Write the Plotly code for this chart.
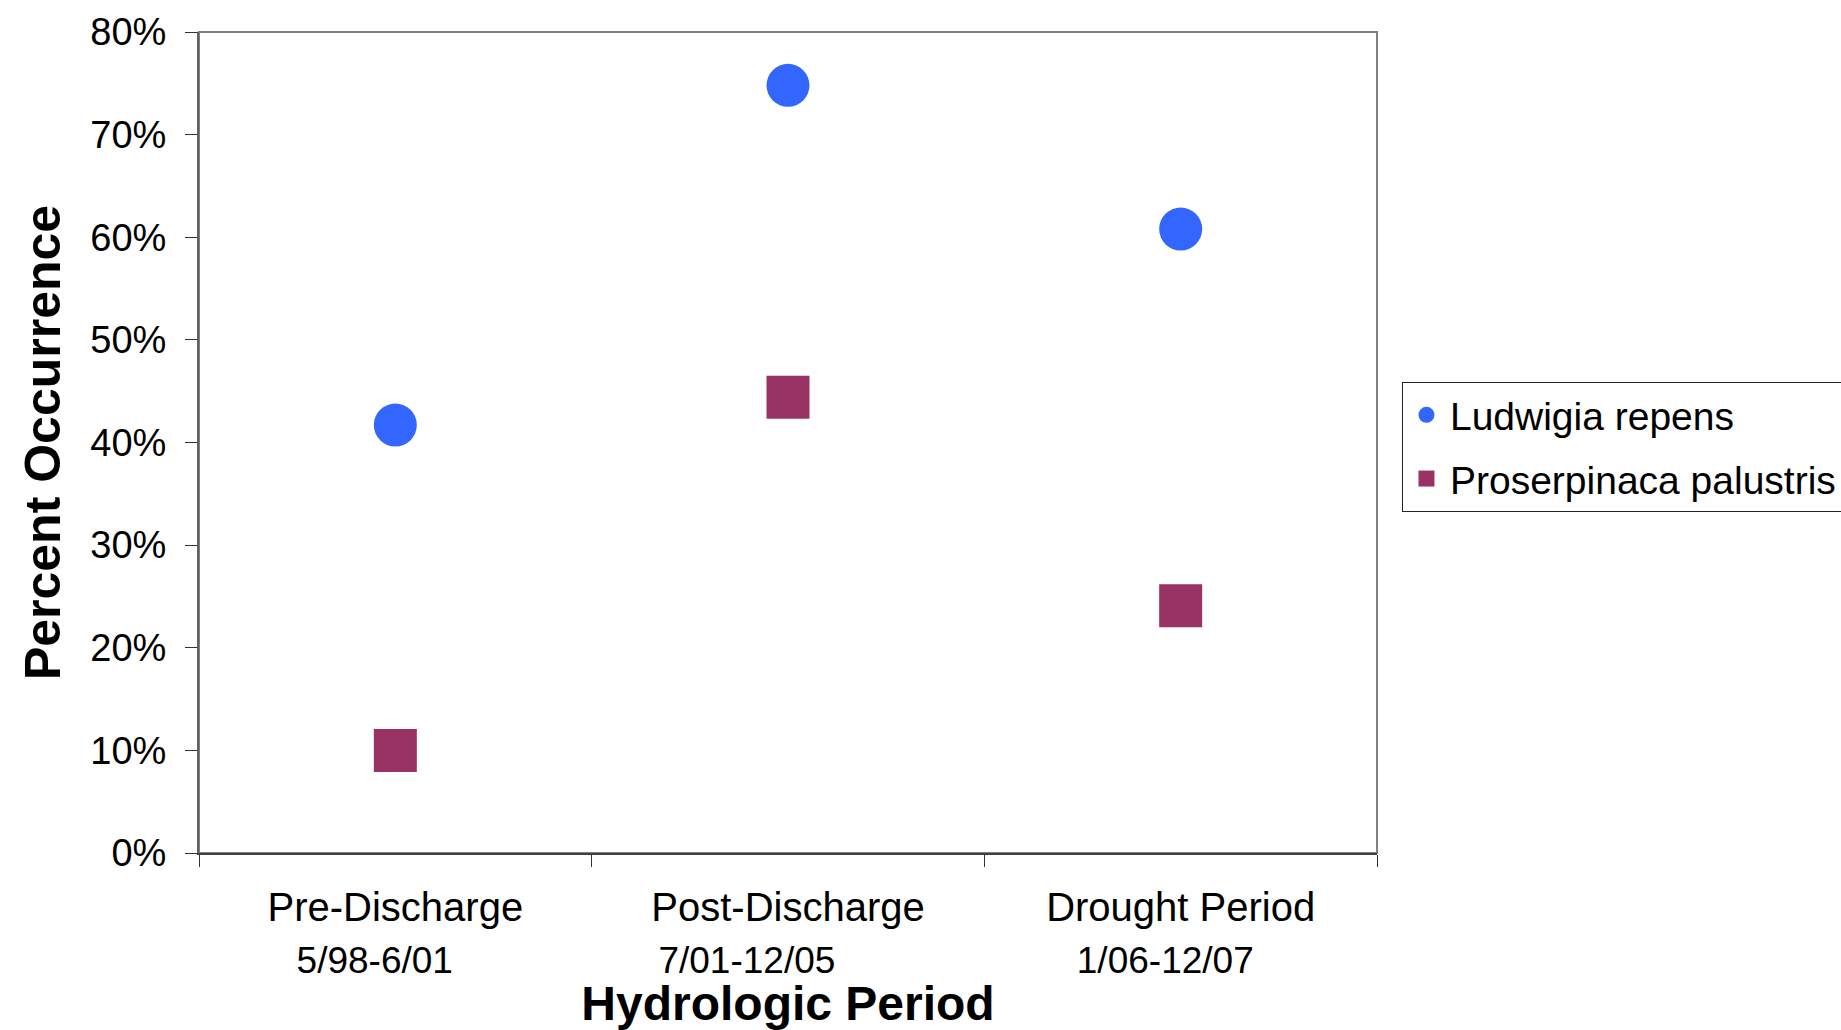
import plotly.graph_objects as go

# Hydrologic periods (category labels, two lines each)
periods = ["Pre-Discharge", "Post-Discharge", "Drought Period"]
date_ranges = ["5/98-6/01", "7/01-12/05", "1/06-12/07"]

# Percent occurrence of each species per period
ludwigia = [41.7, 74.8, 60.8]
proserpinaca = [10.0, 44.4, 24.1]

y_ticks = [0, 10, 20, 30, 40, 50, 60, 70, 80]

FONT = "Liberation Sans, Arial, sans-serif"
NBSP = "\u00a0"

# the date line is a touch smaller and sits a little left of the period name
date_pad = [4, 8, 3]
tick_text = [
    f"{p}<br><span style='font-size:37px'>{d}{NBSP * n}</span>"
    for p, d, n in zip(periods, date_ranges, date_pad)
]

fig = go.Figure()
fig.add_trace(go.Scatter(
    x=periods, y=ludwigia, mode="markers", name="Ludwigia repens",
    marker=dict(symbol="circle", size=43, color="#3366FF", line=dict(width=0)),
    legendgroup="a",
))
fig.add_trace(go.Scatter(
    x=periods, y=proserpinaca, mode="markers", name="Proserpinaca palustris",
    marker=dict(symbol="square", size=43, color="#993366", line=dict(width=0)),
    legendgroup="b",
))

# plot frame
fig.add_shape(type="rect", xref="paper", yref="paper", x0=0, x1=1, y0=0, y1=1,
              line=dict(color="#808080", width=2), layer="below")

fig.update_layout(
    width=1841, height=1030,
    margin=dict(l=199, r=464, t=32, b=177, autoexpand=False),
    paper_bgcolor="white", plot_bgcolor="white",
    font=dict(family=FONT, color="black"),
    showlegend=True,
    legend=dict(
        x=1.0212, xanchor="left", y=0.5737, yanchor="top",
        bordercolor="#222222", borderwidth=1, bgcolor="white",
        font=dict(family=FONT, size=39, color="black"),
        traceorder="grouped", tracegroupgap=10,
        itemsizing="trace", itemwidth=37,
    ),
    xaxis=dict(
        type="category", range=[-0.5, 2.5],
        tickmode="array", tickvals=periods, ticktext=tick_text,
        tickson="boundaries", ticks="outside", ticklen=12, tickwidth=1, tickcolor="#333333",
        showline=True, linecolor="#404040", linewidth=2,
        showgrid=False, zeroline=False,
        tickfont=dict(family=FONT, size=40, color="black"),
        ticklabelstandoff=18,
        title=dict(text="<b>Hydrologic Period</b>", font=dict(family=FONT, size=48, color="black"), standoff=9),
    ),
    yaxis=dict(
        range=[0, 80], tickmode="array", tickvals=y_ticks,
        ticktext=[f"{v}%" for v in y_ticks],
        ticks="outside", ticklen=12, tickwidth=1, tickcolor="#333333",
        showline=True, linecolor="#606060", linewidth=2,
        showgrid=False, zeroline=False,
        tickfont=dict(family=FONT, size=38, color="black"),
        ticklabelstandoff=11,
        title=dict(text="<b>Percent Occurrence</b>", font=dict(family=FONT, size=50, color="black"), standoff=14),
    ),
)

fig.write_html("out.html")
